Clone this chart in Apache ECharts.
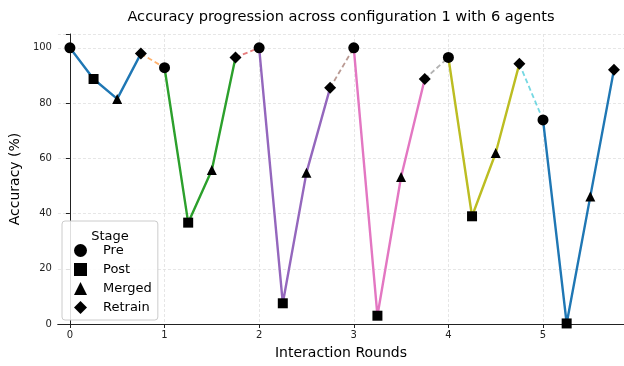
<!DOCTYPE html>
<html>
<head>
<meta charset="utf-8">
<script src="https://cdn.jsdelivr.net/npm/echarts@6/dist/echarts.min.js"></script>
<style>html,body{margin:0;padding:0;background:#fff}#c{width:624px;height:366px}</style>
</head>
<body>
<div id="c"></div>
<script>
const titleText = 'Accuracy progression across configuration 1 with 6 agents';
const stageNames = ['Pre', 'Post', 'Merged', 'Retrain'];
const stageOffsets = [0, 0.25, 0.5, 0.75];
const preVals = [100, 92.8, 100, 100, 96.5, 73.9];
const postVals = [88.7, 36.7, 7.5, 3.0, 39, 0.2];
const mergedVals = [81.5, 55.8, 54.8, 53.2, 61.9, 46.2];
const retrainVals = [97.9, 96.5, 85.5, 88.7, 94.2, 92.1];
const agentColors = ['#1f77b4', '#2ca02c', '#9467bd', '#e377c2', '#bcbd22', '#1f77b4'];
const linkColors = ['#ff7f0e', '#d62728', '#8c564b', '#7f7f7f', '#17becf'];
const xTicks = [0, 1, 2, 3, 4, 5];
const yTicks = [0, 20, 40, 60, 80, 100];

const stageVals = [preVals, postVals, mergedVals, retrainVals];
const symbols = ['circle', 'rect', 'triangle', 'diamond'];
const symbolSizes = [11, 10, 10, 12];
const FONT = 'DejaVu Sans';

const series = [];
for (let a = 0; a < preVals.length; a++) {
  series.push({
    type: 'line', silent: true, symbol: 'none', z: 2,
    lineStyle: { color: agentColors[a], width: 2.4 },
    data: stageVals.map((v, s) => [a + stageOffsets[s], v[a]])
  });
  if (a < linkColors.length) {
    series.push({
      type: 'line', silent: true, symbol: 'none', z: 1,
      lineStyle: { color: linkColors[a], width: 1.8, type: [5, 3], opacity: 0.6 },
      data: [[a + stageOffsets[3], retrainVals[a]], [a + 1, preVals[a + 1]]]
    });
  }
}
stageNames.forEach((name, s) => {
  series.push({
    name: name, type: 'scatter', z: 5,
    symbol: symbols[s], symbolSize: symbolSizes[s],
    itemStyle: { color: '#000', opacity: 1 },
    data: stageVals[s].map((v, a) => [a + stageOffsets[s], v])
  });
});

const chart = echarts.init(document.getElementById('c'), null, { renderer: 'canvas' });
chart.setOption({
  animation: false,
  backgroundColor: '#fff',
  textStyle: { fontFamily: FONT },
  title: [
    { text: titleText, left: 336, top: 5, textAlign: 'center',
      textStyle: { fontFamily: FONT, fontSize: 14.6, fontWeight: 'normal', color: '#000' } },
    { text: 'Stage', left: 105, top: 225, textAlign: 'center', z: 10,
      textStyle: { fontFamily: FONT, fontSize: 13, fontWeight: 'normal', color: '#000' } }
  ],
  legend: {
    orient: 'vertical', left: 62, top: 221,
    padding: [23, 6, 6, 12],
    itemWidth: 13, itemHeight: 13, itemGap: 6,
    backgroundColor: 'rgba(255,255,255,0.85)',
    borderColor: '#ccc', borderWidth: 1, borderRadius: 3,
    textStyle: { fontFamily: FONT, fontSize: 13, color: '#000', padding: [0, 0, 0, 11] },
    data: stageNames.map((n, s) => ({ name: n, icon: symbols[s], itemStyle: { color: '#000', opacity: 1 } }))
  },
  grid: { left: 56, right: 0, top: 34, bottom: 42, containLabel: false },
  xAxis: [{
    type: 'value', min: -0.126, max: 5.856,
    name: 'Interaction Rounds', nameLocation: 'middle', nameGap: 22,
    nameTextStyle: { fontFamily: FONT, fontSize: 14, color: '#000' },
    axisLine: { show: true, onZero: false, lineStyle: { color: '#222', width: 1 } },
    axisTick: { show: true, length: 4, customValues: xTicks, lineStyle: { color: '#222' } },
    axisLabel: { customValues: xTicks, fontFamily: FONT, fontSize: 10, color: '#222', margin: 6 },
    splitLine: { show: true, lineStyle: { color: '#e0e0e0', type: [3, 2], width: 0.8 } }
  }, {
    type: 'value', position: 'top', min: -0.126, max: 5.856,
    axisLine: { show: true, lineStyle: { color: '#222', width: 1 } },
    axisTick: { show: false }, axisLabel: { show: false }, splitLine: { show: false }
  }],
  yAxis: {
    type: 'value', min: 0, max: 105, interval: 20,
    name: 'Accuracy (%)', nameLocation: 'middle', nameGap: 28,
    nameTextStyle: { fontFamily: FONT, fontSize: 14, color: '#000' },
    axisLine: { show: true, lineStyle: { color: '#222', width: 1 } },
    axisTick: { show: true, length: 4, lineStyle: { color: '#222' } },
    axisLabel: { fontFamily: FONT, fontSize: 10, color: '#222', margin: 6,
      formatter: v => (v > 100 ? '' : String(v)) },
    splitLine: { show: true, lineStyle: { color: '#e0e0e0', type: [3, 2], width: 0.8 } }
  },
  series: series
});
</script>
</body>
</html>
